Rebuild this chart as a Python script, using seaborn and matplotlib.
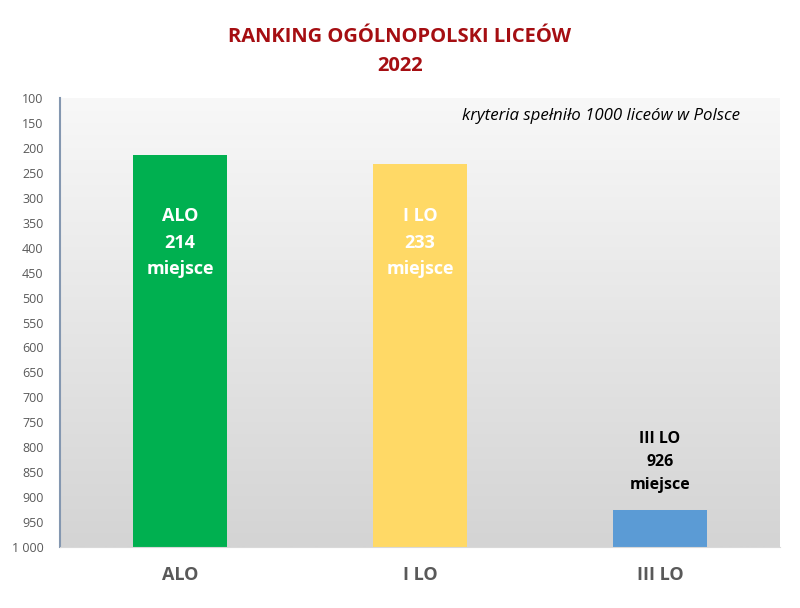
import numpy as np
import pandas as pd
import seaborn as sns
import matplotlib.pyplot as plt
from matplotlib.ticker import FuncFormatter, MultipleLocator

schools = ["ALO", "I LO", "III LO"]
places = [214, 233, 926]
colors = ["#00B050", "#FFD966", "#5B9BD5"]
label_colors = ["white", "white", "black"]
total = 1000

df = pd.DataFrame({"school": schools, "place": places})
# bars grow up from the bottom of the ranking (1000) towards place 1
df["depth"] = total - df["place"]

sns.set_style("white")
plt.rcParams["font.family"] = ["Open Sans", "DejaVu Sans"]

fig = plt.figure(figsize=(8, 6.08), dpi=100)
ax = fig.add_axes([0.075, 0.1003, 0.9, 0.7385])

sns.barplot(data=df, x="school", y="depth", hue="school", palette=colors,
            width=0.39, legend=False, saturation=1, linewidth=0,
            ax=ax, zorder=2)

ax.set_ylim(0, 900)
ax.set_xlim(-0.5, 2.5)

# gradient background
grad = np.linspace(0, 1, 256).reshape(-1, 1)
cmap = sns.blend_palette(["#d4d4d4", "#f8f8f8"], as_cmap=True)
ax.imshow(grad, aspect="auto", cmap=cmap, origin="lower",
          extent=[-0.5, 2.5, 0, 900], zorder=0)

ax.yaxis.set_major_locator(MultipleLocator(50))
ax.yaxis.set_major_formatter(FuncFormatter(
    lambda v, p: f"{int(total - v):,}".replace(",", " ")))
ax.tick_params(axis="y", labelsize=9, colors="#595959", length=0, pad=12)
ax.tick_params(axis="x", labelsize=13, colors="#595959", length=0, pad=14)
for t in ax.get_xticklabels():
    t.set_fontweight("bold")
ax.set_xlabel("")
ax.set_ylabel("")

for s in ["top", "right"]:
    ax.spines[s].set_visible(False)
ax.spines["left"].set_color("#8497b0")
ax.spines["left"].set_linewidth(1.5)
ax.spines["bottom"].set_color("#d9d9d9")

# labels in / above bars
for i, (name, pl) in enumerate(zip(schools, places)):
    txt = f"{name}\n{pl}\nmiejsce"
    if pl < 500:
        ypos = total - 390
        size = 13
    else:
        ypos = total - 830
        size = 11.5
    ax.text(i, ypos, txt, ha="center", va="center", color=label_colors[i],
            fontsize=size, fontweight="bold", linespacing=1.6, zorder=3)

ax.text(0.944, 0.978, "kryteria spełniło 1000 liceów w Polsce",
        transform=ax.transAxes, ha="right", va="top", fontsize=12.2,
        style="italic", color="black")

fig.text(0.5, 0.955, "RANKING OGÓLNOPOLSKI LICEÓW\n2022", ha="center",
         va="top", fontsize=14.5, fontweight="bold", color="#A50E12",
         linespacing=1.55)

fig.savefig("out.png", dpi=100, facecolor="white")
